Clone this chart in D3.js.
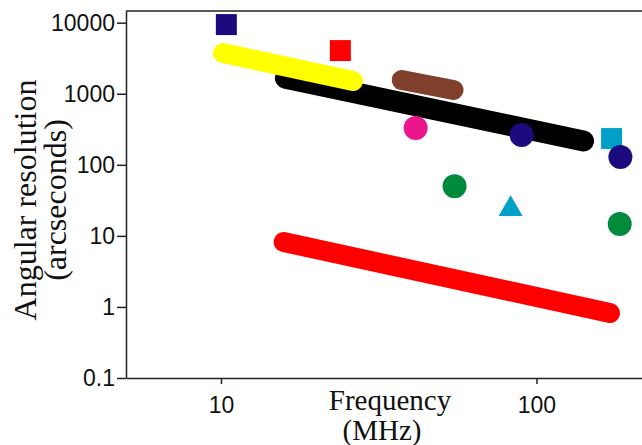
<!DOCTYPE html>
<html>
<head>
<meta charset="utf-8">
<title>Angular resolution vs frequency</title>
<script src="https://cdn.jsdelivr.net/npm/d3@7"></script>
<style>
body { margin: 0; background: #fff; }
.title { font-family: "Liberation Serif", "Times New Roman", serif; fill: #111; }
</style>
</head>
<body>
<div id="chart"></div>
<script>
// bands: instruments covering a range of frequencies
var bandFreqStart = [16, 10.15, 37.4, 15.8];
var bandFreqEnd   = [141, 26.2, 54.6, 171];
var bandResStart  = [1660, 3740, 1560, 8.2];
var bandResEnd    = [216, 1510, 1130, 0.82];
var bandColors    = ["#000000", "#ffff00", "#7f402c", "#ff0000"];

// single instruments
var pointFreq   = [10.4, 23.9, 41.4, 55.0, 89.7, 82.8, 173, 184.5, 183.6];
var pointRes    = [9400, 4050, 330, 50, 262, 23.9, 234, 129, 14.7];
var pointShape  = ["square", "square", "circle", "circle", "circle", "triangle", "square", "circle", "circle"];
var pointColors = ["#1b0b7e", "#ff0000", "#ec168c", "#008a3e", "#1b0b7e", "#00a0c8", "#00a0c8", "#1b0b7e", "#008a3e"];

var xTicks = [10, 100];
var yTicks = [0.1, 1, 10, 100, 1000, 10000];

var w = 642, h = 445;
var plotLeft = 126, plotRight = 642, plotTop = 11, plotBottom = 378;

var svg = d3.select('#chart').append('svg')
  .attr('width', w)
  .attr('height', h);

var x = d3.scaleLog().domain([5, 216]).range([plotLeft, plotRight]);
var y = d3.scaleLog().domain([0.1, 14600]).range([plotBottom, plotTop]);

// frame top line
svg.append('line')
  .attr('x1', plotLeft).attr('x2', plotRight)
  .attr('y1', plotTop).attr('y2', plotTop)
  .attr('stroke', '#222').attr('stroke-width', 1.5);

svg.append('g')
  .attr('class', 'axis')
  .attr('transform', 'translate(' + plotLeft + ',0)')
  .call(d3.axisLeft(y).tickValues(yTicks).tickFormat(d3.format('~g')).tickSize(9).tickSizeOuter(0).tickPadding(2));

svg.append('g')
  .attr('class', 'axis')
  .attr('transform', 'translate(0,' + plotBottom + ')')
  .call(d3.axisBottom(x).tickValues(xTicks).tickFormat(d3.format('d')).tickSize(6).tickSizeOuter(0).tickPadding(13));

svg.selectAll('.axis')
  .attr('font-family', '"Liberation Sans", Arial, sans-serif')
  .attr('font-size', 23);
svg.selectAll('.axis text').attr('fill', '#111');
svg.selectAll('.domain, .tick line').attr('stroke', '#222').attr('stroke-width', 1.5);

// bands
svg.selectAll('.band')
  .data(bandFreqStart)
  .enter()
  .append('line')
  .attr('class', 'band')
  .attr('x1', function(d, i) { return x(d); })
  .attr('y1', function(d, i) { return y(bandResStart[i]); })
  .attr('x2', function(d, i) { return x(bandFreqEnd[i]); })
  .attr('y2', function(d, i) { return y(bandResEnd[i]); })
  .attr('stroke', function(d, i) { return bandColors[i]; })
  .attr('stroke-width', function(d, i) { return i == 0 ? 21 : 20; })
  .attr('stroke-linecap', 'round');

// points
var shapes = { square: [d3.symbolSquare, 441], circle: [d3.symbolCircle, 452], triangle: [d3.symbolTriangle, 249] };
svg.selectAll('.pt')
  .data(pointFreq)
  .enter()
  .append('path')
  .attr('class', 'pt')
  .attr('d', function(d, i) {
    var s = shapes[pointShape[i]];
    return d3.symbol().type(s[0]).size(s[1])();
  })
  .attr('transform', function(d, i) { return 'translate(' + x(d) + ',' + y(pointRes[i]) + ')'; })
  .attr('fill', function(d, i) { return pointColors[i]; });

// axis titles
var yt = svg.append('text')
  .attr('class', 'title')
  .attr('transform', 'translate(0,200) rotate(-90)')
  .attr('text-anchor', 'middle')
  .attr('font-size', 32);
yt.append('tspan').attr('x', 0).attr('y', 36).text('Angular resolution');
yt.append('tspan').attr('x', 0).attr('y', 66).text('(arcseconds)');

svg.append('text')
  .attr('class', 'title')
  .attr('x', 390).attr('y', 410)
  .attr('text-anchor', 'middle')
  .attr('font-size', 29)
  .text('Frequency');
svg.append('text')
  .attr('class', 'title')
  .attr('x', 382).attr('y', 440)
  .attr('text-anchor', 'middle')
  .attr('font-size', 29)
  .text('(MHz)');
</script>
</body>
</html>
